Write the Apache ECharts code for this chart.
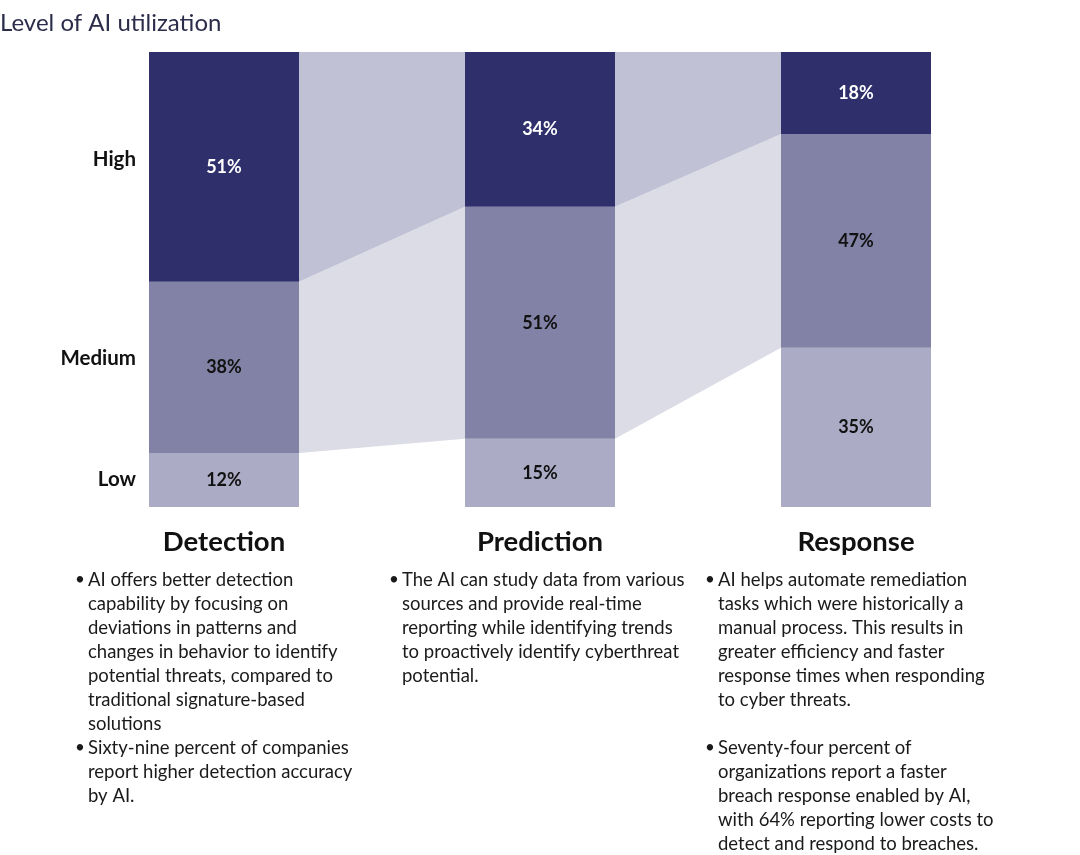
<!DOCTYPE html>
<html>
<head>
<meta charset="utf-8">
<script src="https://cdn.jsdelivr.net/npm/echarts@6/dist/echarts.min.js"></script>
<style>html,body{margin:0;padding:0;background:#fff}#c{width:1080px;height:855px}</style>
</head>
<body>
<div id="c"></div>
<script>
const titleText = 'Level of AI utilization';
const categories = ['Detection', 'Prediction', 'Response'];
const levels = ['Low', 'Medium', 'High'];
const lowValues = [12, 15, 35];
const mediumValues = [38, 51, 47];
const highValues = [51, 34, 18];
const detectionNotes = [
  ['AI offers better detection', 'capability by focusing on', 'deviations in patterns and', 'changes in behavior to identify', 'potential threats, compared to', 'traditional signature-based', 'solutions'],
  ['Sixty-nine percent of companies', 'report higher detection accuracy', 'by AI.']
];
const predictionNotes = [
  ['The AI can study data from various', 'sources and provide real-time', 'reporting while identifying trends', 'to proactively identify cyberthreat', 'potential.']
];
const responseNotes = [
  ['AI helps automate remediation', 'tasks which were historically a', 'manual process. This results in', 'greater efficiency and faster', 'response times when responding', 'to cyber threats.', ''],
  ['Seventy-four percent of', 'organizations report a faster', 'breach response enabled by AI,', 'with 64% reporting lower costs to', 'detect and respond to breaches.']
];

const FONT = 'Lato';
const rawSeries = [lowValues, mediumValues, highValues];
const sums = categories.map((_, i) => lowValues[i] + mediumValues[i] + highValues[i]);
const norm = rawSeries.map(arr => arr.map((v, i) => v / sums[i] * 100));
const cum = categories.map((_, i) => {
  let c = [0];
  for (let k = 0; k < 3; k++) c.push(c[k] + norm[k][i]);
  return c;
});
const barColors = ['#ababc5', '#8282a6', '#2e2f6b'];
const bandColors = [null, '#dcdce6', '#c0c1d4'];
const BAR_W = 150;

const bandData = [];
for (let i = 0; i < categories.length - 1; i++) {
  for (let k = 1; k < 3; k++) {
    bandData.push([i, k, cum[i][k], cum[i][k + 1], cum[i + 1][k], cum[i + 1][k + 1]]);
  }
}

const chart = echarts.init(document.getElementById('c'));

const barSeries = levels.map((lv, k) => ({
  name: lv,
  type: 'bar',
  stack: 'all',
  barWidth: BAR_W,
  data: norm[k],
  itemStyle: { color: barColors[k] },
  label: {
    show: true,
    position: 'inside',
    formatter: p => rawSeries[k][p.dataIndex] + '%',
    color: k === 2 ? '#ffffff' : '#111111',
    fontFamily: FONT,
    fontWeight: 'bold',
    fontSize: 18
  },
  z: 3
}));

const levelLabelOffsets = [-1, -9, -7];
const levelLabelSeries = {
  type: 'custom',
  renderItem: (params, api) => {
    const k = api.value(0);
    const pt = api.coord([0, api.value(1)]);
    return {
      type: 'text',
      x: pt[0] - BAR_W / 2 - 13,
      y: pt[1] + levelLabelOffsets[k],
      style: {
        text: levels[k],
        fill: '#111111',
        font: 'bold 20.5px ' + FONT,
        align: 'right',
        verticalAlign: 'middle'
      }
    };
  },
  data: levels.map((_, k) => [k, (cum[0][k] + cum[0][k + 1]) / 2]),
  silent: true,
  z: 5
};

const bandSeries = {
  type: 'custom',
  renderItem: (params, api) => {
    const i = api.value(0), k = api.value(1);
    const a0 = api.coord([i, api.value(2)]), a1 = api.coord([i, api.value(3)]);
    const b0 = api.coord([i + 1, api.value(4)]), b1 = api.coord([i + 1, api.value(5)]);
    const h = BAR_W / 2;
    return {
      type: 'polygon',
      shape: { points: [[a1[0] + h, a1[1]], [b1[0] - h, b1[1]], [b0[0] - h, b0[1]], [a0[0] + h, a0[1]]] },
      style: { fill: bandColors[k] }
    };
  },
  data: bandData,
  silent: true,
  z: 1
};

const graphics = [];
const noteCols = [detectionNotes, predictionNotes, responseNotes];
const noteX = [88, 402, 718];
const LINE_H = 24;
noteCols.forEach((notes, c) => {
  let y = 581;
  notes.forEach(lines => {
    graphics.push({
      type: 'text', left: noteX[c] - 13, top: y - 10,
      style: { text: '•', fill: '#1a1a1a', font: '17px ' + FONT }
    });
    lines.forEach(line => {
      graphics.push({
        type: 'text', left: noteX[c], top: y - 10,
        style: { text: line, fill: '#1a1a1a', font: '18.5px ' + FONT }
      });
      y += LINE_H;
    });
  });
});

chart.setOption({
  animation: false,
  title: {
    text: titleText, left: 0, top: 11, padding: 0,
    textStyle: { fontFamily: FONT, fontSize: 24, fontWeight: 'normal', color: '#2b2d4a' }
  },
  grid: { left: 66, right: 66, top: 52, bottom: 348 },
  xAxis: {
    type: 'category',
    data: categories,
    axisLine: { show: false },
    axisTick: { show: false },
    axisLabel: { margin: 21, color: '#111111', fontFamily: FONT, fontWeight: 'bold', fontSize: 27.5 }
  },
  yAxis: { type: 'value', min: 0, max: 100, show: false },
  series: [bandSeries, ...barSeries, levelLabelSeries],
  graphic: graphics
});
</script>
</body>
</html>
